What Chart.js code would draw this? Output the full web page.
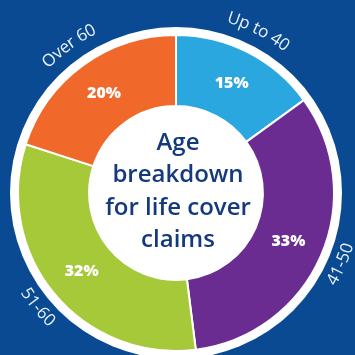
<!DOCTYPE html>
<html><head><meta charset="utf-8">
<script src="https://cdn.jsdelivr.net/npm/chart.js@4.4.1/dist/chart.umd.min.js"></script>
<style>html,body{margin:0;padding:0;background:#0a4a92;overflow:hidden;}#wrap{width:355px;height:355px;position:relative;}</style>
</head><body><div id="wrap"><canvas id="c" width="355" height="355"></canvas></div>
<script>
const categories = ['Up to 40', '41-50', '51-60', 'Over 60'];
const shares = [15, 33, 32, 20];
const valueLabels = ['15%', '33%', '32%', '20%'];
const sliceColors = ['#2ba7e0', '#6a2c91', '#a6c93a', '#f0692b'];
const centerLines = ['Age', 'breakdown', 'for life cover', 'claims'];

function curvedText(ctx, text, cx, cy, r, midAngle, bottom) {
  ctx.save();
  ctx.textAlign = 'center';
  ctx.textBaseline = 'middle';
  const total = ctx.measureText(text).width;
  const span = total / r;
  let a = bottom ? midAngle + span / 2 : midAngle - span / 2;
  for (const ch of text) {
    const w = ctx.measureText(ch).width;
    const da = w / r;
    const am = bottom ? a - da / 2 : a + da / 2;
    ctx.save();
    ctx.translate(cx + r * Math.sin(am), cy - r * Math.cos(am));
    ctx.rotate(bottom ? am + Math.PI : am);
    ctx.fillText(ch, 0, 0);
    ctx.restore();
    a = bottom ? a - da : a + da;
  }
  ctx.restore();
}

const decor = {
  id: 'decor',
  beforeDatasetsDraw(chart) {
    const arc = chart.getDatasetMeta(0).data[0];
    const ctx = chart.ctx;
    ctx.save();
    ctx.fillStyle = '#ffffff';
    ctx.beginPath();
    ctx.arc(arc.x, arc.y, arc.outerRadius + 8, 0, Math.PI * 2);
    ctx.fill();
    ctx.restore();
  },
  afterDatasetsDraw(chart) {
    const meta = chart.getDatasetMeta(0);
    const ctx = chart.ctx;
    const cx = meta.data[0].x, cy = meta.data[0].y, R = meta.data[0].outerRadius;
    ctx.save();
    ctx.fillStyle = '#ffffff';
    ctx.font = '800 16px "Open Sans"';
    ctx.textAlign = 'center';
    ctx.textBaseline = 'middle';
    meta.data.forEach((el, i) => {
      const p = el.tooltipPosition();
      ctx.fillText(valueLabels[i], p.x, p.y);
    });
    ctx.fillStyle = '#e9f1f9';
    ctx.font = '17px "Open Sans"';
    meta.data.forEach((el, i) => {
      const mid = (el.startAngle + el.endAngle) / 2 + Math.PI / 2;
      let m = mid % (Math.PI * 2);
      const bottom = m > Math.PI / 2 && m < Math.PI * 1.5;
      curvedText(ctx, categories[i], cx, cy, bottom ? R + 22 : R + 25, m, bottom);
    });
    ctx.fillStyle = '#14397c';
    ctx.font = '600 24px "Open Sans"';
    ctx.textAlign = 'center';
    ctx.textBaseline = 'alphabetic';
    centerLines.forEach((t, i) => ctx.fillText(t, cx + 2, 150 + i * 32.3));
    ctx.restore();
  }
};

new Chart(document.getElementById('c'), {
  type: 'doughnut',
  data: {
    labels: categories,
    datasets: [{
      data: shares,
      backgroundColor: sliceColors,
      borderColor: '#ffffff',
      borderWidth: 2
    }]
  },
  options: {
    responsive: false,
    animation: false,
    cutout: '55%',
    layout: { padding: { left: 17, right: 20, top: 34, bottom: 3 } },
    plugins: { legend: { display: false }, tooltip: { enabled: false } }
  },
  plugins: [decor]
});
</script>
</body></html>
